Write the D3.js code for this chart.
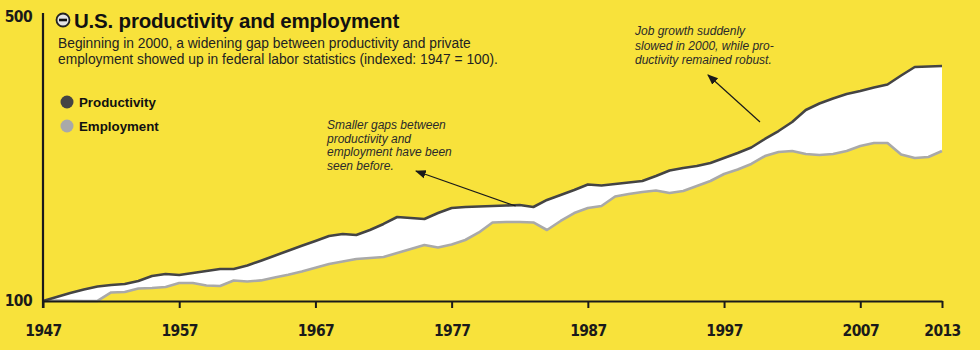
<!DOCTYPE html>
<html>
<head>
<meta charset="utf-8">
<script src="https://cdn.jsdelivr.net/npm/d3@7/dist/d3.min.js"></script>
<style>
  html, body { margin: 0; padding: 0; background: #f8e23b; }
  svg { display: block; }
  .tick-lbl { font-family: "Liberation Sans Narrow", "DejaVu Sans Condensed", sans-serif; font-weight: bold; font-size: 15.5px; fill: #1a1a1a; letter-spacing: -0.6px; }
</style>
</head>
<body>
<svg id="chart" width="980" height="350"></svg>
<script>
const years = d3.range(1947, 2014);
const productivity = [
  100, 105.6, 111.3, 116.2, 120.4, 122.5, 123.9, 128.2, 135.2, 138.0,
  136.6, 139.4, 142.3, 145.1, 145.1, 150.1, 156.8, 163.8, 170.8, 177.7,
  184.6, 191.5, 194.4, 193.0, 200.0, 208.5, 218.3, 216.9, 215.5, 223.9,
  231.0, 232.4, 233.1, 233.8, 234.5, 235.2, 232.4, 242.3, 249.3, 256.3,
  264.1, 262.7, 264.8, 266.9, 269.0, 276.1, 283.8, 287.3, 290.1, 294.4,
  301.4, 308.5, 316.2, 328.2, 339.4, 352.1, 369.0, 378.2, 385.2, 391.5,
  395.8, 400.7, 404.9, 417.6, 429.6, 430.3, 431.0
];
const employment = [
  100, 100.8, 100.4, 100.0, 100.2, 112.0, 112.7, 117.6, 118.3, 119.7,
  125.4, 125.4, 121.8, 121.1, 128.9, 127.5, 129.0, 133.0, 136.9, 141.4,
  146.8, 152.1, 155.6, 159.2, 160.6, 162.0, 167.6, 173.2, 178.9, 175.4,
  179.6, 185.9, 196.5, 210.6, 211.3, 211.3, 210.6, 200.0, 212.7, 223.9,
  231.0, 233.8, 247.2, 250.7, 253.5, 255.6, 252.1, 254.9, 262.0, 269.0,
  278.9, 285.2, 293.0, 304.2, 309.9, 311.3, 307.0, 305.6, 307.0, 311.3,
  318.3, 322.5, 322.5, 306.3, 301.4, 302.8, 311.3
];
const xTickYears = [1947, 1957, 1967, 1977, 1987, 1997, 2007, 2013];
const yTickValues = [100, 500];
const seriesNames = ["Productivity", "Employment"];
const seriesColors = ["#444444", "#a9a9a9"];
const titleText = "U.S. productivity and employment";
const subtitleLines = [
  "Beginning in 2000, a widening gap between productivity and private",
  "employment showed up in federal labor statistics (indexed: 1947 = 100)."
];
const note1Lines = ["Smaller gaps between", "productivity and", "employment have been", "seen before."];
const note2Lines = ["Job growth suddenly", "slowed in 2000, while pro-", "ductivity remained robust."];

const data = years.map((yr, i) => ({ year: yr, p: productivity[i], e: employment[i] }));

const svg = d3.select("#chart");
const x = d3.scaleLinear().domain([1947, 2013]).range([43, 942]);
const y = d3.scaleLinear().domain([100, 500]).range([301, 17]);

svg.append("defs").append("marker")
  .attr("id", "arrow").attr("viewBox", "0 0 10 10")
  .attr("refX", 9).attr("refY", 5)
  .attr("markerWidth", 9).attr("markerHeight", 9)
  .attr("orient", "auto-start-reverse")
  .append("path").attr("d", "M0,1 L10,5 L0,9 Z").attr("fill", "#1a1a1a");

svg.append("path").datum(data)
  .attr("fill", "#ffffff")
  .attr("d", d3.area().x(d => x(d.year)).y0(d => y(d.e)).y1(d => y(d.p)));

svg.append("path").datum(data)
  .attr("fill", "none").attr("stroke", seriesColors[1]).attr("stroke-width", 2.6)
  .attr("stroke-linejoin", "round")
  .attr("d", d3.line().x(d => x(d.year)).y(d => y(d.e)));
svg.append("path").datum(data)
  .attr("fill", "none").attr("stroke", seriesColors[0]).attr("stroke-width", 2.6)
  .attr("stroke-linejoin", "round")
  .attr("d", d3.line().x(d => x(d.year)).y(d => y(d.p)));

const xAxis = svg.append("g").attr("transform", `translate(0,${y(100)})`)
  .call(d3.axisBottom(x).tickValues(xTickYears).tickFormat(d3.format("d"))
    .tickSize(7).tickSizeOuter(0).tickPadding(17));
xAxis.select(".domain").attr("stroke", "#1a1a1a").attr("stroke-width", 2.2);
xAxis.selectAll(".tick line").attr("stroke", "#1a1a1a").attr("stroke-width", 2);
xAxis.selectAll(".tick text").attr("class", "tick-lbl");

const yAxis = svg.append("g").attr("transform", `translate(${x(1947)},0)`)
  .call(d3.axisLeft(y).tickValues(yTickValues).tickSize(0).tickPadding(11));
yAxis.select(".domain").remove();
yAxis.selectAll(".tick text").attr("class", "tick-lbl");
svg.append("line")
  .attr("x1", x(1947)).attr("x2", x(1947))
  .attr("y1", y(500) - 4).attr("y2", y(100) + 7)
  .attr("stroke", "#1a1a1a").attr("stroke-width", 2.2);

const icon = svg.append("g").attr("transform", "translate(63,20)");
icon.append("circle").attr("r", 6.5).attr("fill", "#e4e4e4").attr("stroke", "#222").attr("stroke-width", 1.8);
icon.append("rect").attr("x", -4).attr("y", -1.3).attr("width", 8).attr("height", 2.6).attr("fill", "#111");

svg.append("text").attr("x", 74).attr("y", 27.5)
  .attr("font-family", "Liberation Sans, Arial, sans-serif").attr("font-weight", "bold")
  .attr("font-size", 20.5).attr("fill", "#111").attr("letter-spacing", -0.2)
  .text(titleText);

svg.append("g").selectAll("text").data(subtitleLines).join("text")
  .attr("x", 58).attr("y", (d, i) => 48 + i * 16)
  .attr("font-family", "Liberation Sans, Arial, sans-serif")
  .attr("font-size", 13.8).attr("fill", "#222")
  .text(d => d);

const legend = svg.append("g").selectAll("g").data(seriesNames).join("g")
  .attr("transform", (d, i) => `translate(67,${102 + i * 24})`);
legend.append("circle").attr("r", 6.5).attr("fill", (d, i) => seriesColors[i]);
legend.append("text").attr("x", 12).attr("y", 5)
  .attr("font-family", "Liberation Sans, Arial, sans-serif").attr("font-weight", "bold")
  .attr("font-size", 13.3).attr("fill", "#111")
  .text(d => d);

function note(lines, x0, y0, lh) {
  svg.append("g").selectAll("text").data(lines).join("text")
    .attr("x", x0).attr("y", (d, i) => y0 + i * lh)
    .attr("font-family", "Liberation Sans, Arial, sans-serif").attr("font-style", "italic")
    .attr("font-size", 12).attr("fill", "#2a2a2a")
    .text(d => d);
}
note(note1Lines, 327, 129, 13.7);
note(note2Lines, 635, 35, 14.5);

svg.append("line")
  .attr("x1", x(1981.7)).attr("y1", y(235.2) + 1)
  .attr("x2", 416).attr("y2", 171)
  .attr("stroke", "#1a1a1a").attr("stroke-width", 1.2).attr("marker-end", "url(#arrow)");
svg.append("line")
  .attr("x1", 760).attr("y1", 122)
  .attr("x2", 708).attr("y2", 75)
  .attr("stroke", "#1a1a1a").attr("stroke-width", 1.2).attr("marker-end", "url(#arrow)");
</script>
</body>
</html>
